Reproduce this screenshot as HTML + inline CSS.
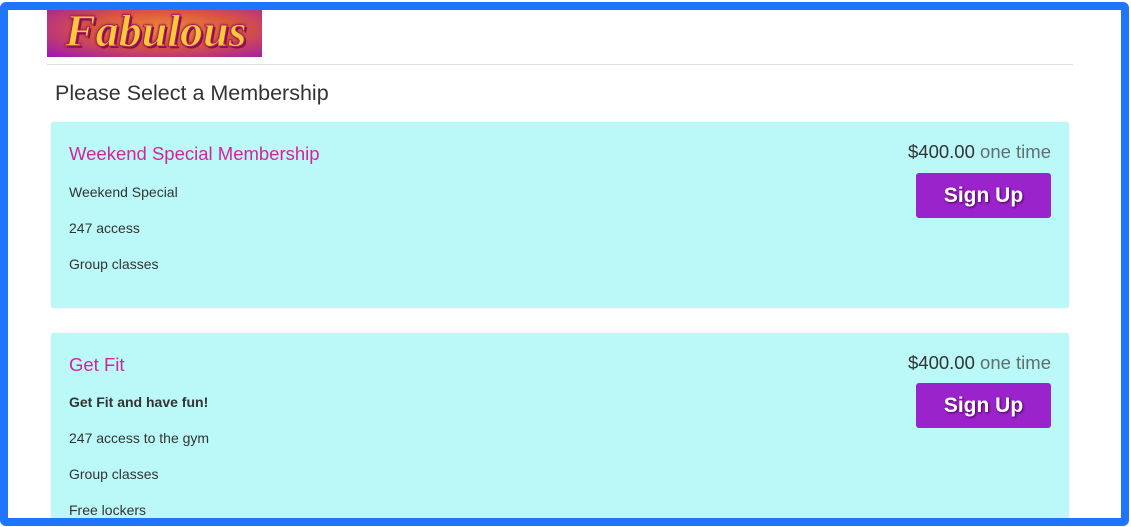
<!DOCTYPE html>
<html><head><meta charset="utf-8"><style>
*{margin:0;padding:0;box-sizing:border-box}
html,body{width:1131px;height:527px;overflow:hidden;background:#fff;font-family:"Liberation Sans",sans-serif;color:#333;position:relative}
.frame{position:absolute;left:0;top:2px;width:1129px;height:524px;border:8px solid #1f75fe;border-radius:6px}
.logo{position:absolute;left:47px;top:10px;width:215px;height:47px;background:radial-gradient(ellipse at 55% 40%,#f08a3a 0%,#d9553f 45%,#9c14b8 100%);overflow:hidden}
.logo span{position:absolute;left:18px;top:-6px;font-family:"Liberation Serif",serif;font-style:italic;font-weight:bold;font-size:46px;color:#ffc93a;text-shadow:0 0 3px #7a0a4a,2px 2px 0 #8a1058;-webkit-text-stroke:1px #b0205a}
.hr{position:absolute;left:47px;top:64px;width:1026px;height:1px;background:#ddd}
h1{position:absolute;left:55px;top:81px;font-size:21.5px;font-weight:normal;color:#333}
.card{position:absolute;left:51px;width:1018px;background:#bbf9f8;border-radius:3px;box-shadow:0 0 1px #ccc;overflow:hidden}
.t{position:absolute;left:18px;font-size:18.5px;color:#d4249b}
.l{position:absolute;left:18px;font-size:14px;color:#333}
.p{position:absolute;right:18px;font-size:18.5px;color:#333}
.p span{color:#5f6f70}
.b{position:absolute;left:865px;width:135px;height:45px;background:#9b23cc;border-radius:3px;color:#fff;font-weight:bold;font-size:21px;text-align:center;line-height:45px;text-shadow:1px 1px 2px #4a0050}
</style></head><body>
<div class="logo"><span>Fabulous</span></div>
<div class="hr"></div>
<h1>Please Select a Membership</h1>
<div class="card" style="top:122px;height:186px">
<div class="t" style="top:21px">Weekend Special Membership</div>
<div class="l" style="top:62px">Weekend Special</div>
<div class="l" style="top:98px">247 access</div>
<div class="l" style="top:134px">Group classes</div>
<div class="p" style="top:19px">$400.00 <span>one time</span></div>
<div class="b" style="top:51px">Sign Up</div>
</div>
<div class="card" style="top:333px;height:190px">
<div class="t" style="top:21px">Get Fit</div>
<div class="l" style="top:61px;font-weight:bold">Get Fit and have fun!</div>
<div class="l" style="top:97px">247 access to the gym</div>
<div class="l" style="top:133px">Group classes</div>
<div class="l" style="top:169px">Free lockers</div>
<div class="p" style="top:19px">$400.00 <span>one time</span></div>
<div class="b" style="top:50px">Sign Up</div>
</div>
<div class="frame"></div>
</body></html>
